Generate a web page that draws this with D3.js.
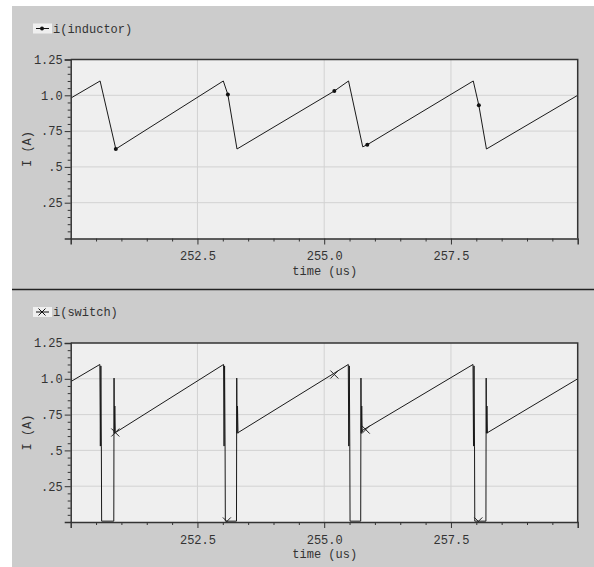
<!DOCTYPE html>
<html>
<head>
<meta charset="utf-8">
<script src="https://cdn.jsdelivr.net/npm/d3@7"></script>
<style>
  html, body { margin: 0; padding: 0; background: #fff; }
  svg text { font-family: "Liberation Mono", "DejaVu Sans Mono", monospace; font-size: 12px; fill: #333; }
</style>
</head>
<body>
<svg id="chart" width="594" height="567"></svg>
<script>
// time axis (us)
var xDomain = [250, 260]
var xMajorTicks = [252.5, 255.0, 257.5]
var xTickLabels = ['252.5', '255.0', '257.5']
var xMinorTicks = [250.5, 251, 251.5, 252, 253, 253.5, 254, 254.5, 255.5, 256, 256.5, 257, 258, 258.5, 259, 259.5]

// current axis (A)
var yDomain = [0, 1.25]
var yMajorTicks = [0.25, 0.5, 0.75, 1.0, 1.25]
var yTickLabels = ['.25', '.5', '.75', '1.0', '1.25']
var yMinorTicks = [0.05, 0.1, 0.15, 0.2, 0.3, 0.35, 0.4, 0.45, 0.55, 0.6, 0.65, 0.7, 0.8, 0.85, 0.9, 0.95, 1.05, 1.1, 1.15, 1.2]

// i(inductor)
var inductorTime = [250.0, 250.58, 250.89, 253.01, 253.10, 253.28, 255.20, 255.48, 255.76, 255.85, 257.94, 258.05, 258.20, 260.0]
var inductorCurrent = [0.98, 1.10, 0.625, 1.10, 1.005, 0.625, 1.03, 1.10, 0.64, 0.655, 1.10, 0.93, 0.625, 1.0]
var inductorMarkTime = [250.89, 253.10, 255.20, 255.85, 258.05]
var inductorMarkCurrent = [0.625, 1.005, 1.03, 0.655, 0.93]

// i(switch)
var switchTime = [
  250.0, 250.575, 250.585, 250.595, 250.605, 250.61, 250.85, 250.855, 250.86, 250.87, 250.88, 250.885,
  253.015, 253.025, 253.035, 253.045, 253.05, 253.27, 253.275, 253.28, 253.29, 253.30, 253.305,
  255.475, 255.485, 255.495, 255.505, 255.51, 255.72, 255.725, 255.73, 255.74, 255.75, 255.755,
  257.935, 257.945, 257.955, 257.965, 257.97, 258.19, 258.195, 258.20, 258.21, 258.22, 258.225,
  260.0
]
var switchCurrent = [
  0.98, 1.10, 0.53, 1.09, 0.53, 0.006, 0.006, 1.005, 0.62, 0.81, 0.62, 0.625,
  1.10, 0.53, 1.09, 0.53, 0.006, 0.006, 1.005, 0.62, 0.81, 0.62, 0.625,
  1.10, 0.53, 1.09, 0.53, 0.006, 0.006, 1.005, 0.62, 0.81, 0.63, 0.64,
  1.10, 0.53, 1.09, 0.53, 0.006, 0.006, 1.005, 0.62, 0.81, 0.62, 0.625,
  1.0
]
var switchMarkTime = [250.88, 253.08, 255.20, 255.82, 258.04]
var switchMarkCurrent = [0.625, 0.004, 1.03, 0.645, 0.004]

var svg = d3.select('#chart')

svg.append('rect')
  .attr('x', 12).attr('y', 6)
  .attr('width', 582).attr('height', 561)
  .style('fill', '#cccccc')

svg.append('line')
  .attr('x1', 12).attr('x2', 594)
  .attr('y1', 289.5).attr('y2', 289.5)
  .style('stroke', '#222').style('stroke-width', 1.5)

function zip(a, b) {
  var out = []
  for (var i = 0; i < a.length; i++) out.push([a[i], b[i]])
  return out
}

function drawPanel(opts) {
  var left = 70.7, right = 577.7
  var top = opts.top, bottom = opts.top + 179

  var x = d3.scaleLinear().domain(xDomain).range([left, right])
  var y = d3.scaleLinear().domain(yDomain).range([bottom, top])

  var g = svg.append('g')

  g.append('rect')
    .attr('x', left).attr('y', top)
    .attr('width', right - left).attr('height', bottom - top)
    .style('fill', '#efefef')

  // grid
  g.selectAll('.vgrid').data(xMajorTicks).enter().append('line')
    .attr('x1', function(d) { return x(d) }).attr('x2', function(d) { return x(d) })
    .attr('y1', top).attr('y2', bottom)
    .style('stroke', '#d2d2d2').style('stroke-width', 1)
  g.selectAll('.hgrid').data(yMajorTicks.slice(0, 4)).enter().append('line')
    .attr('x1', left).attr('x2', right)
    .attr('y1', function(d) { return y(d) }).attr('y2', function(d) { return y(d) })
    .style('stroke', '#d2d2d2').style('stroke-width', 1)

  // clip
  var clipId = 'clip' + opts.key
  svg.append('clipPath').attr('id', clipId)
    .append('rect')
    .attr('x', left).attr('y', top)
    .attr('width', right - left).attr('height', bottom - top)

  var plot = g.append('g').attr('clip-path', 'url(#' + clipId + ')')

  plot.append('path')
    .datum(zip(opts.time, opts.current))
    .attr('d', d3.line().x(function(d) { return x(d[0]) }).y(function(d) { return y(d[1]) }))
    .style('fill', 'none')
    .style('stroke', '#1a1a1a')
    .style('stroke-width', 1)

  var marks = zip(opts.markTime, opts.markCurrent)
  if (opts.marker === 'dot') {
    plot.selectAll('.mark').data(marks).enter().append('circle')
      .attr('cx', function(d) { return x(d[0]) })
      .attr('cy', function(d) { return y(d[1]) })
      .attr('r', 2)
      .style('fill', '#111')
  } else {
    plot.selectAll('.mark').data(marks).enter().append('path')
      .attr('d', function(d) {
        var cx = x(d[0]), cy = y(d[1]), s = 4
        return 'M' + (cx - s) + ',' + (cy - s) + 'L' + (cx + s) + ',' + (cy + s) +
          'M' + (cx - s) + ',' + (cy + s) + 'L' + (cx + s) + ',' + (cy - s)
      })
      .style('stroke', '#222').style('stroke-width', 1).style('fill', 'none')
  }

  // axes
  var yAxis = g.append('g')
    .attr('transform', 'translate(' + left + ',0)')
    .call(d3.axisLeft(y).tickValues(yMajorTicks).tickSize(6).tickPadding(2)
      .tickFormat(function(d, i) { return yTickLabels[i] }))
  yAxis.append('g').call(d3.axisLeft(y).tickValues(yMinorTicks).tickSize(3).tickFormat(''))
    .select('.domain').remove()

  var xAxis = g.append('g')
    .attr('transform', 'translate(0,' + bottom + ')')
    .call(d3.axisBottom(x).tickValues(xMajorTicks).tickSize(6).tickPadding(7)
      .tickFormat(function(d, i) { return xTickLabels[i] }))
  xAxis.append('g').call(d3.axisBottom(x).tickValues(xMinorTicks).tickSize(3).tickFormat(''))
    .select('.domain').remove()

  g.selectAll('.domain').style('stroke', '#333').style('stroke-width', 1.5)
  g.selectAll('.tick line').style('stroke', '#333')
  g.selectAll('.tick text')
    .style('font-family', '"Liberation Mono", monospace')
    .style('font-size', '12px')
    .style('fill', '#333')

  // top and right frame
  g.append('path')
    .attr('d', 'M' + left + ',' + top + 'H' + right + 'V' + bottom)
    .style('fill', 'none').style('stroke', '#333').style('stroke-width', 1.5)

  g.append('text')
    .attr('x', (left + right) / 2 + 0.5)
    .attr('y', bottom + 36)
    .attr('text-anchor', 'middle')
    .text('time (us)')

  g.append('text')
    .attr('transform', 'translate(31,' + ((top + bottom) / 2) + ') rotate(-90)')
    .attr('text-anchor', 'middle')
    .text('I (A)')

  // legend
  var ly = opts.legendY
  g.append('rect')
    .attr('x', 33).attr('y', ly - 5)
    .attr('width', 19).attr('height', 10)
    .style('fill', '#efefef')
  g.append('line')
    .attr('x1', 36).attr('x2', 49).attr('y1', ly).attr('y2', ly)
    .style('stroke', '#111').style('stroke-width', 1)
  if (opts.marker === 'dot') {
    g.append('circle').attr('cx', 42).attr('cy', ly).attr('r', 2).style('fill', '#111')
  } else {
    g.append('path')
      .attr('d', 'M38.5,' + (ly - 3.5) + 'L45.5,' + (ly + 3.5) + 'M38.5,' + (ly + 3.5) + 'L45.5,' + (ly - 3.5))
      .style('stroke', '#111').style('stroke-width', 1)
  }
  g.append('text')
    .attr('x', 53).attr('y', ly + 4)
    .text(opts.label)
}

drawPanel({
  key: 'a', top: 59.5, legendY: 28.5, label: 'i(inductor)', marker: 'dot',
  time: inductorTime, current: inductorCurrent,
  markTime: inductorMarkTime, markCurrent: inductorMarkCurrent
})

drawPanel({
  key: 'b', top: 343, legendY: 312, label: 'i(switch)', marker: 'x',
  time: switchTime, current: switchCurrent,
  markTime: switchMarkTime, markCurrent: switchMarkCurrent
})
</script>
</body>
</html>
